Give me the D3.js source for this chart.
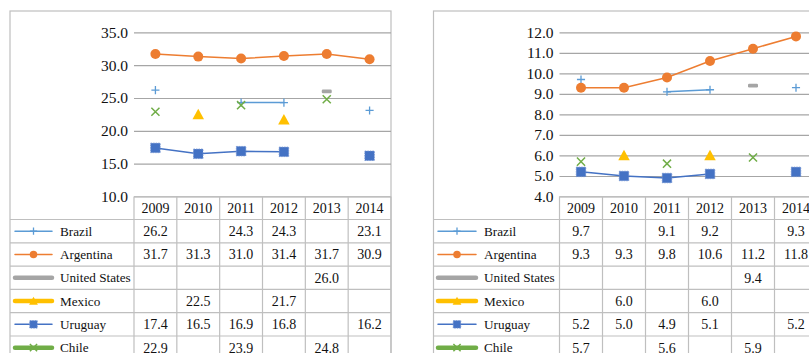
<!DOCTYPE html>
<html>
<head>
<meta charset="utf-8">
<script src="https://cdn.jsdelivr.net/npm/d3@7"></script>
<style>
  body { margin: 0; background: #fff; }
  svg { display: block; }
</style>
</head>
<body>
<svg id="chart" width="809" height="353"></svg>
<script>
// ---- data ----
const years = ["2009", "2010", "2011", "2012", "2013", "2014"];
const countries = ["Brazil", "Argentina", "United States", "Mexico", "Uruguay", "Chile"];

// left panel values
const leftBrazil       = [26.2, null, 24.3, 24.3, null, 23.1];
const leftArgentina    = [31.7, 31.3, 31.0, 31.4, 31.7, 30.9];
const leftUnitedStates = [null, null, null, null, 26.0, null];
const leftMexico       = [null, 22.5, null, 21.7, null, null];
const leftUruguay      = [17.4, 16.5, 16.9, 16.8, null, 16.2];
const leftChile        = [22.9, null, 23.9, null, 24.8, null];
const leftTicks = [10, 15, 20, 25, 30, 35];

// right panel values
const rightBrazil       = [9.7, null, 9.1, 9.2, null, 9.3];
const rightArgentina    = [9.3, 9.3, 9.8, 10.6, 11.2, 11.8];
const rightUnitedStates = [null, null, null, null, 9.4, null];
const rightMexico       = [null, 6.0, null, 6.0, null, null];
const rightUruguay      = [5.2, 5.0, 4.9, 5.1, null, 5.2];
const rightChile        = [5.7, null, 5.6, null, 5.9, null];
const rightTicks = [4, 5, 6, 7, 8, 9, 10, 11, 12];

// ---- series styling ----
const styles = {
  "Brazil":        { color: "#5B9BD5", marker: "plus",     legendWidth: 1.5 },
  "Argentina":     { color: "#ED7D31", marker: "circle",   legendWidth: 1.5 },
  "United States": { color: "#A5A5A5", marker: "dash",     legendWidth: 4.5 },
  "Mexico":        { color: "#FFC000", marker: "triangle", legendWidth: 4.5 },
  "Uruguay":       { color: "#4472C4", marker: "square",   legendWidth: 1.5 },
  "Chile":         { color: "#70AD47", marker: "cross",    legendWidth: 4.5 }
};

const FONT = '"Liberation Serif", "Times New Roman", "DejaVu Serif", serif';
const INK = "#111";

const svg = d3.select("#chart");
svg.append("rect").attr("width", 809).attr("height", 353).attr("fill", "#fff");

function addText(g, x, y, str, size, anchor) {
  return g.append("text").attr("x", x).attr("y", y).attr("dy", "0.35em")
    .attr("text-anchor", anchor || "start")
    .attr("font-family", FONT).style("font-family", FONT)
    .attr("font-size", size).attr("fill", INK).text(str);
}

function drawMarker(g, type, cx, cy, s, color) {
  switch (type) {
    case "plus":
      g.append("path").attr("d", `M${cx - s * 0.45},${cy}H${cx + s * 0.45}M${cx},${cy - s * 0.45}V${cy + s * 0.45}`)
        .attr("stroke", color).attr("stroke-width", 1.3).attr("fill", "none");
      break;
    case "circle":
      g.append("circle").attr("cx", cx).attr("cy", cy).attr("r", s * 0.5).attr("fill", color);
      break;
    case "dash":
      g.append("rect").attr("x", cx - s * 0.5).attr("y", cy - 1.8).attr("width", s).attr("height", 3.6)
        .attr("rx", 1.2).attr("fill", color);
      break;
    case "triangle":
      g.append("path").attr("d", `M${cx},${cy - s * 0.55}L${cx + s * 0.55},${cy + s * 0.45}L${cx - s * 0.55},${cy + s * 0.45}Z`)
        .attr("fill", color);
      break;
    case "square":
      g.append("rect").attr("x", cx - s * 0.5).attr("y", cy - s * 0.5).attr("width", s).attr("height", s)
        .attr("fill", color).attr("stroke", "#6d8fd0").attr("stroke-width", 0.8).attr("stroke-dasharray", "1.5,1");
      break;
    case "cross":
      g.append("path").attr("d", `M${cx - s * 0.45},${cy - s * 0.45}L${cx + s * 0.45},${cy + s * 0.45}M${cx - s * 0.45},${cy + s * 0.45}L${cx + s * 0.45},${cy - s * 0.45}`)
        .attr("stroke", color).attr("stroke-width", 1.5).attr("fill", "none");
      break;
  }
}

function drawPanel(cfg, seriesValues, ticks) {
  const g = svg.append("g");
  const gridColor = "#A6A6A6", tableColor = "#BFBFBF";
  const fmt = d3.format(".1f");

  const x = d3.scaleBand().domain(years).range([cfg.plotLeft, cfg.plotRight]);
  const y = d3.scaleLinear().domain([ticks[0], ticks[ticks.length - 1]]).range([cfg.tableTop, cfg.plotTop]);

  // outer frame
  g.append("rect").attr("x", cfg.frameLeft).attr("y", cfg.frameTop)
    .attr("width", cfg.frameRight - cfg.frameLeft).attr("height", 400)
    .attr("fill", "none").attr("stroke", tableColor).attr("stroke-width", 1.2);

  // gridlines and value axis
  const axis = d3.axisLeft(y).tickValues(ticks).tickFormat(fmt)
    .tickSize(-(cfg.plotRight - cfg.plotLeft)).tickPadding(6);
  const ag = g.append("g").attr("transform", `translate(${cfg.plotLeft},0)`).call(axis)
    .attr("font-family", FONT).attr("font-size", 15.5);
  ag.select(".domain").remove();
  ag.selectAll(".tick line").attr("stroke", gridColor).attr("stroke-width", 1.2);
  ag.selectAll(".tick text").attr("fill", INK).style("font-family", FONT).attr("font-size", 15.5);

  // series lines (gaps where data is missing) and markers
  const line = d3.line().defined(d => d.v != null).x(d => x(d.year) + x.bandwidth() / 2).y(d => y(d.v));
  countries.forEach((name, i) => {
    const st = styles[name];
    const pts = years.map((yr, j) => ({ year: yr, v: seriesValues[i][j] }));
    g.append("path").datum(pts).attr("d", line).attr("fill", "none")
      .attr("stroke", st.color).attr("stroke-width", 1.5);
    const size = { plus: 9, circle: 10, dash: 10, triangle: 10.5, square: 9.5, cross: 9 }[st.marker];
    pts.filter(d => d.v != null).forEach(d => {
      drawMarker(g, st.marker, x(d.year) + x.bandwidth() / 2, y(d.v), size, st.color);
    });
  });

  // data table
  const headerH = 23, rowH = 23.3;
  const tg = g.append("g");
  tg.append("line").attr("x1", cfg.plotLeft).attr("x2", cfg.plotRight)
    .attr("y1", cfg.tableTop).attr("y2", cfg.tableTop).attr("stroke", tableColor).attr("stroke-width", 1.2);
  years.forEach(yr => addText(tg, x(yr) + x.bandwidth() / 2, cfg.tableTop + headerH / 2, yr, 14, "middle"));
  const cols = years.map(yr => x(yr)).concat([cfg.plotRight]);
  cols.forEach(cx => {
    tg.append("line").attr("x1", cx).attr("x2", cx).attr("y1", cfg.tableTop).attr("y2", 360)
      .attr("stroke", tableColor).attr("stroke-width", 1.2);
  });
  countries.forEach((name, i) => {
    const top = cfg.tableTop + headerH + i * rowH;
    const mid = top + rowH / 2;
    const st = styles[name];
    tg.append("line").attr("x1", cfg.frameLeft).attr("x2", cfg.plotRight)
      .attr("y1", top).attr("y2", top).attr("stroke", tableColor).attr("stroke-width", 1.2);
    // legend key
    tg.append("line").attr("x1", cfg.keyLeft).attr("x2", cfg.keyRight).attr("y1", mid).attr("y2", mid)
      .attr("stroke", st.color).attr("stroke-width", st.legendWidth).attr("stroke-linecap", "round");
    const kc = (cfg.keyLeft + cfg.keyRight) / 2;
    if (st.marker !== "dash") {
      const ks = { plus: 8, circle: 7.5, triangle: 8, square: 7.5, cross: 8 }[st.marker];
      drawMarker(tg, st.marker, kc, mid, ks, st.color);
    }
    addText(tg, cfg.labelX, mid, name, 13.2, "start");
    years.forEach((yr, j) => {
      const v = seriesValues[i][j];
      if (v == null) return;
      addText(tg, x(yr) + x.bandwidth() / 2, mid, fmt(v), 14, "middle");
    });
  });
}

drawPanel(
  { frameLeft: 10, frameRight: 391, frameTop: 11, plotLeft: 134, plotRight: 391, plotTop: 32.3, tableTop: 196.5,
    keyLeft: 15, keyRight: 52, labelX: 60 },
  [leftBrazil, leftArgentina, leftUnitedStates, leftMexico, leftUruguay, leftChile],
  leftTicks
);

drawPanel(
  { frameLeft: 433.5, frameRight: 817.5, frameTop: 11, plotLeft: 559.5, plotRight: 817.5, plotTop: 32.3, tableTop: 196.5,
    keyLeft: 438, keyRight: 476, labelX: 484 },
  [rightBrazil, rightArgentina, rightUnitedStates, rightMexico, rightUruguay, rightChile],
  rightTicks
);
</script>
</body>
</html>
